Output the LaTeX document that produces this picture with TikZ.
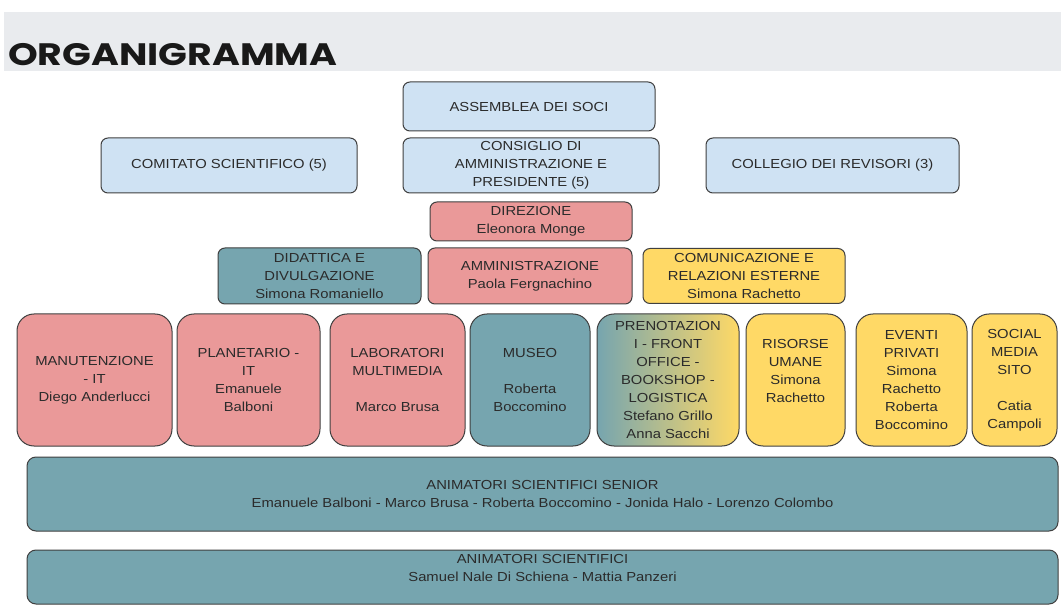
\documentclass[tikz,border=0pt]{standalone}
\usepackage{fontspec}
\setmainfont[FakeStretch=1.13]{Liberation Sans}
\newfontfamily\titlefont[FakeStretch=1.22]{Poppins}
\definecolor{bandgrey}{HTML}{E9EBEE}
\definecolor{bluefill}{HTML}{CFE2F3}
\definecolor{redfill}{HTML}{EA9999}
\definecolor{tealfill}{HTML}{76A5AF}
\definecolor{yellowfill}{HTML}{FFD966}
\definecolor{edgegrey}{HTML}{404040}
\definecolor{txt}{HTML}{2B2B2B}
\begin{document}
\begin{tikzpicture}[x=1pt,y=-1pt,
  box/.style={draw=edgegrey, line width=1pt, rounded corners=7pt, align=center,
    inner sep=0pt, text=txt, font=\fontsize{13.1}{18}\selectfont},
  bigbox/.style={box, rounded corners=17pt, minimum height=132pt},
  bluebox/.style={box, fill=bluefill},
  redbox/.style={box, fill=redfill},
  tealbox/.style={box, fill=tealfill},
  yellowbox/.style={box, fill=yellowfill},
  bar/.style={box, fill=tealfill, rounded corners=9pt, minimum width=1031pt}
]
\useasboundingbox (0,0) rectangle (1061,612);
\fill[white] (0,0) rectangle (1061,612);
\fill[bandgrey] (4,12) rectangle (1061,71);
\node[anchor=base west, inner sep=0pt, font=\titlefont\bfseries\fontsize{31}{31}\selectfont, text=black!90] (title) at (8,66) {ORGANIGRAMMA};

\node[bluebox, minimum width=252pt, minimum height=49pt] (assemblea) at (529,106.5) {ASSEMBLEA DEI SOCI};
\node[bluebox, minimum width=256pt, minimum height=55pt] (comitato) at (229,165.5) {COMITATO SCIENTIFICO (5)};
\node[bluebox, minimum width=256pt, minimum height=55pt] (consiglio) at (531,165.5) {CONSIGLIO DI\\AMMINISTRAZIONE E\\PRESIDENTE (5)};
\node[bluebox, minimum width=253pt, minimum height=55pt] (collegio) at (832.5,165.5) {COLLEGIO DEI REVISORI (3)};

\node[redbox, minimum width=202pt, minimum height=39pt] (direzione) at (531,221.5) {DIREZIONE\\Eleonora Monge};
\node[tealbox, minimum width=203pt, minimum height=56pt] (didattica) at (319.5,276) {DIDATTICA E\\DIVULGAZIONE\\Simona Romaniello};
\node[redbox, minimum width=204pt, minimum height=56pt] (amministrazione) at (530,276) {AMMINISTRAZIONE\\Paola Fergnachino};
\node[yellowbox, minimum width=202pt, minimum height=55pt] (comunicazione) at (744,276) {COMUNICAZIONE E\\RELAZIONI ESTERNE\\Simona Rachetto};

\node[bigbox, fill=redfill, minimum width=155pt] (manutenzione) at (94.5,380) {MANUTENZIONE\\- IT\\Diego Anderlucci};
\node[bigbox, fill=redfill, minimum width=143pt] (planetario) at (248.5,380) {PLANETARIO -\\IT\\Emanuele\\Balboni};
\node[bigbox, fill=redfill, minimum width=135pt] (laboratori) at (397.5,380) {LABORATORI\\MULTIMEDIA\\\mbox{}\\Marco Brusa};
\node[bigbox, fill=tealfill, minimum width=120pt] (museo) at (530,380) {MUSEO\\\mbox{}\\Roberta\\Boccomino};
\node[bigbox, left color=tealfill, right color=yellowfill, minimum width=142pt] (prenotazioni) at (668,380) {PRENOTAZION\\I - FRONT\\OFFICE -\\BOOKSHOP -\\LOGISTICA\\Stefano Grillo\\Anna Sacchi};
\node[bigbox, fill=yellowfill, minimum width=99pt] (risorse) at (795.5,380) {RISORSE\\UMANE\\Simona\\Rachetto\\\mbox{}};
\node[bigbox, fill=yellowfill, minimum width=111pt] (eventi) at (911.5,380) {EVENTI\\PRIVATI\\Simona\\Rachetto\\Roberta\\Boccomino};
\node[bigbox, fill=yellowfill, minimum width=85pt] (social) at (1014.5,380) {SOCIAL\\MEDIA\\SITO\\\mbox{}\\Catia\\Campoli};

\node[bar, minimum height=74pt] (senior) at (542.5,494) {ANIMATORI SCIENTIFICI SENIOR\\Emanuele Balboni - Marco Brusa - Roberta Boccomino - Jonida Halo - Lorenzo Colombo};
\node[bar, minimum height=54pt] (animatori) at (542.5,577) {ANIMATORI SCIENTIFICI\\Samuel Nale Di Schiena - Mattia Panzeri\\\mbox{}};
\end{tikzpicture}
\end{document}
